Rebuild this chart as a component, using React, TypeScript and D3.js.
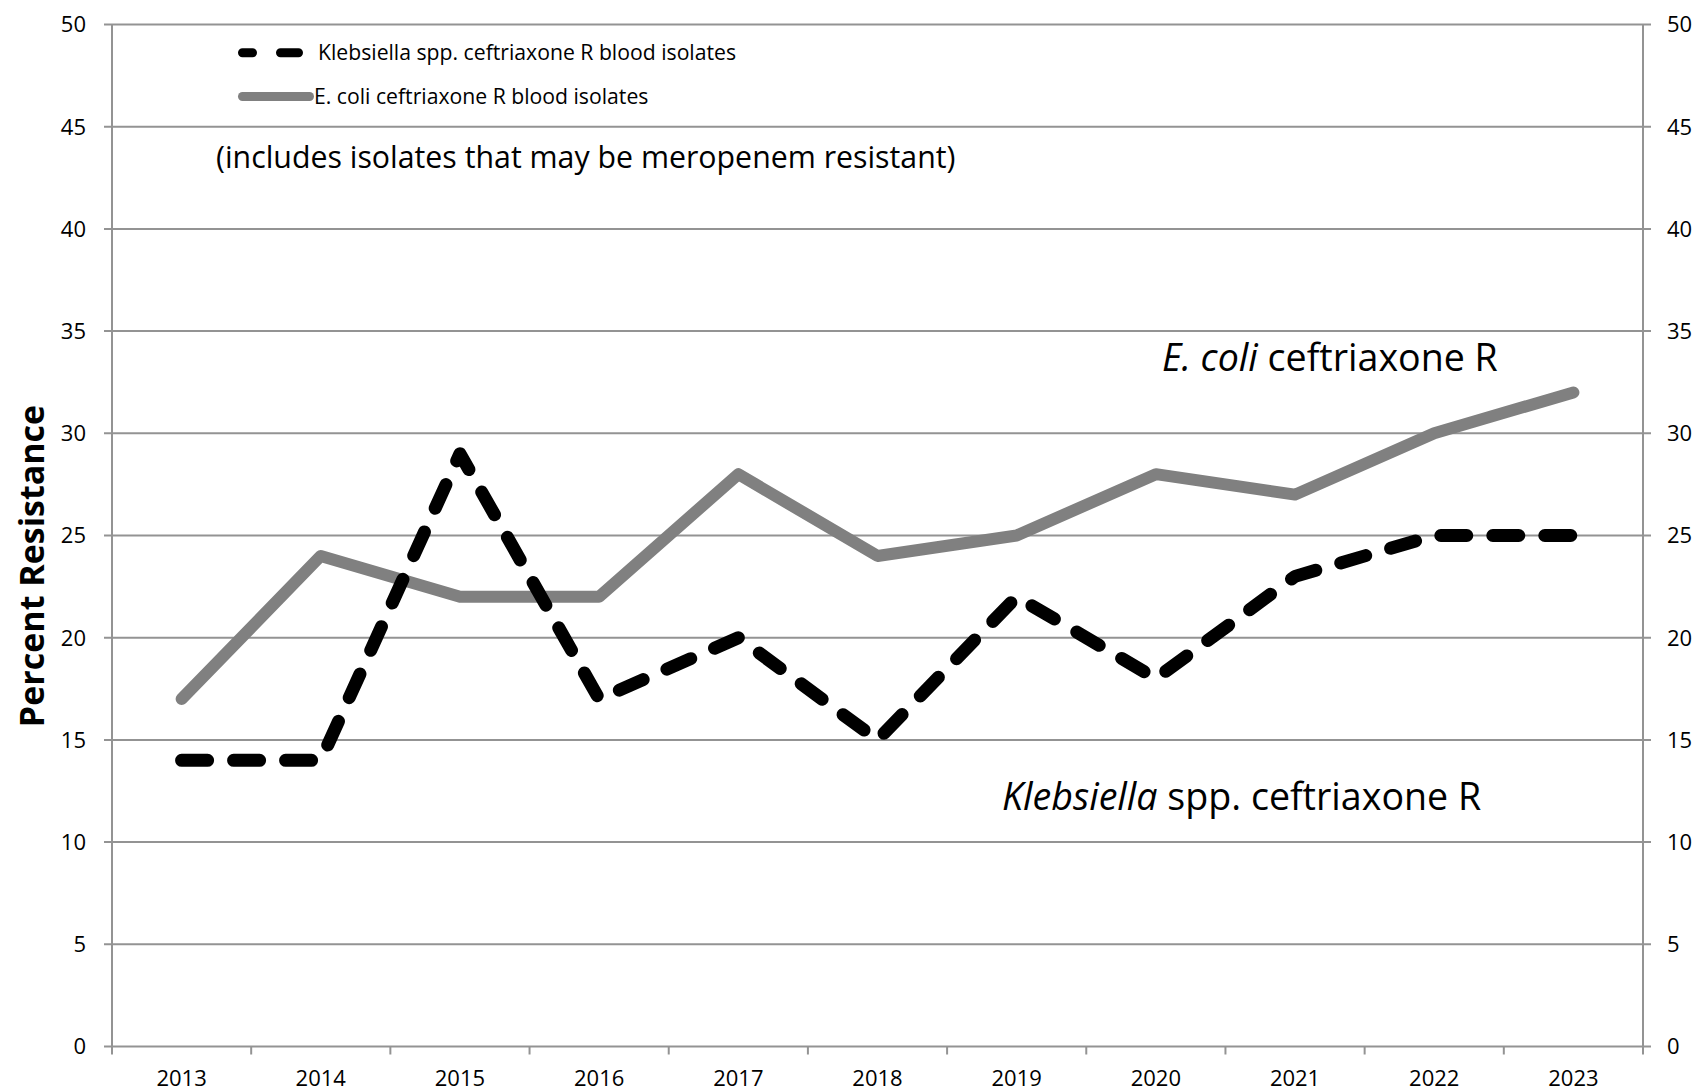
import React from "react";
import * as d3 from "d3";

const years = ["2013", "2014", "2015", "2016", "2017", "2018", "2019", "2020", "2021", "2022", "2023"];
const klebsiella = [14, 14, 29, 17, 20, 15, 22, 18, 23, 25, 25];
const ecoli = [17, 24, 22, 22, 28, 24, 25, 28, 27, 30, 32];
const yTicks = [0, 5, 10, 15, 20, 25, 30, 35, 40, 45, 50];
const legendLabels = ["Klebsiella spp. ceftriaxone R blood isolates", "E. coli ceftriaxone R blood isolates"];

const W = 1698;
const H = 1092;
const left = 112;
const right = 1643;
const top = 24.5;
const bottom = 1046.5;
const FONT = "'Open Sans', 'DejaVu Sans', sans-serif";
const GRID = "#939393";

export default function App() {
  const xBand = d3.scaleBand<string>().domain(years).range([left, right]).paddingInner(0).paddingOuter(0);
  const x = (yr: string) => (xBand(yr) as number) + xBand.bandwidth() / 2;
  const y = d3.scaleLinear().domain([0, 50]).range([bottom, top]);

  const line = d3
    .line<number>()
    .x((_, i) => x(years[i]))
    .y((d) => y(d));

  const boundaries = years.map((yr) => xBand(yr) as number).concat([right]);

  return (
    <svg
      width={W}
      height={H}
      style={{ position: "absolute", left: 0, top: 0, background: "#fff" }}
      fontFamily={FONT}
    >
      <rect x={0} y={0} width={W} height={H} fill="#fff" />
      {/* gridlines */}
      {yTicks.map((t) => (
        <line key={"g" + t} x1={left - 8} x2={right + 8} y1={y(t)} y2={y(t)} stroke={GRID} strokeWidth={2} />
      ))}
      {/* axes */}
      <line x1={left} x2={left} y1={top} y2={bottom} stroke={GRID} strokeWidth={2} />
      <line x1={right} x2={right} y1={top} y2={bottom} stroke={GRID} strokeWidth={2} />
      {boundaries.map((bx, i) => (
        <line key={"xt" + i} x1={bx} x2={bx} y1={bottom} y2={bottom + 8} stroke={GRID} strokeWidth={2} />
      ))}
      {/* y tick labels */}
      {yTicks.map((t) => (
        <text key={"yl" + t} x={86} y={y(t)} dy="0.36em" textAnchor="end" fontSize={22} fill="#000">
          {t}
        </text>
      ))}
      {yTicks.map((t) => (
        <text key={"yr" + t} x={1667} y={y(t)} dy="0.36em" textAnchor="start" fontSize={22} fill="#000">
          {t}
        </text>
      ))}
      {/* x tick labels */}
      {years.map((yr) => (
        <text key={"xl" + yr} x={x(yr)} y={1086} textAnchor="middle" fontSize={22} fill="#000">
          {yr}
        </text>
      ))}
      {/* y axis title */}
      <text
        transform={`translate(43.5, 566) rotate(-90)`}
        textAnchor="middle"
        fontSize={34}
        fontWeight="bold"
        fill="#000"
      >
        Percent Resistance
      </text>
      {/* series */}
      <path
        d={line(ecoli) || ""}
        fill="none"
        stroke="#808080"
        strokeWidth={12}
        strokeLinecap="round"
        strokeLinejoin="round"
      />
      <path
        d={line(klebsiella) || ""}
        fill="none"
        stroke="#000"
        strokeWidth={13}
        strokeDasharray="26 26"
        strokeLinecap="round"
        strokeLinejoin="round"
      />
      {/* legend */}
      <line
        x1={242.5}
        x2={309.5}
        y1={52.7}
        y2={52.7}
        stroke="#000"
        strokeWidth={9}
        strokeLinecap="round"
        strokeDasharray="10 28 18 100"
      />
      <text x={318} y={52.7} dy="0.36em" fontSize={21.2} fill="#000">
        {legendLabels[0]}
      </text>
      <line x1={242.5} x2={309.5} y1={96.5} y2={96.5} stroke="#808080" strokeWidth={9} strokeLinecap="round" />
      <text x={314} y={96.5} dy="0.36em" fontSize={21.2} fill="#000">
        {legendLabels[1]}
      </text>
      {/* annotations */}
      <text x={216} y={168} fontSize={30.3} fill="#000">
        (includes isolates that may be meropenem resistant)
      </text>
      <text x={1162} y={371} fontSize={37.6} fill="#000">
        <tspan fontStyle="italic">E. coli</tspan> ceftriaxone R
      </text>
      <text x={1002} y={810} fontSize={37.6} fill="#000">
        <tspan fontStyle="italic">Klebsiella</tspan> spp. ceftriaxone R
      </text>
    </svg>
  );
}
